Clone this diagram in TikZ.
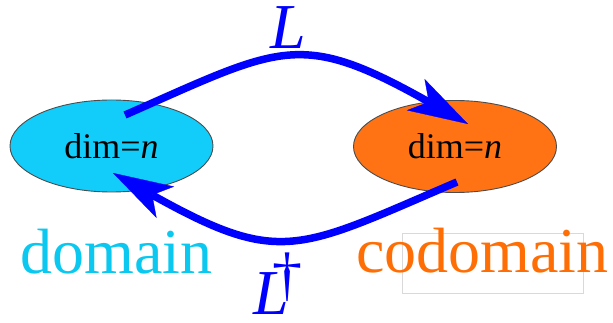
\documentclass[tikz,border=0pt]{standalone}
\usepackage{fontspec}
\setmainfont{Liberation Serif}
\usetikzlibrary{shapes.geometric,arrows.meta}
\definecolor{dcyan}{RGB}{18,205,250}
\definecolor{dorange}{RGB}{255,115,20}
\definecolor{tcyan}{RGB}{10,200,240}
\definecolor{torange}{RGB}{255,110,5}
\definecolor{lblue}{RGB}{0,0,255}
\begin{document}
\begin{tikzpicture}[x=1pt,y=-1pt,
  space/.style={ellipse, draw=black!70, line width=0.9pt, minimum width=203pt, minimum height=92pt, inner sep=0pt, font=\fontsize{36}{36}\selectfont},
  conn/.style={draw=lblue, line width=7.5pt, -{Stealth[length=60pt,width=36pt,inset=15pt,line width=0.3pt]}},
  big/.style={inner sep=0pt, anchor=base, font=\fontsize{64}{64}\selectfont},
  frame/.style={draw=black!15, line width=0.8pt, minimum width=181pt, minimum height=60pt, inner sep=0pt}
]
\useasboundingbox (0,0) rectangle (613,323);
\node[frame] (box) at (492.5,263) {};
\node[space, fill=dcyan] (dom) at (111.5,146) {dim=\textit{n}};
\node[space, fill=dorange] (cod) at (455,146.5) {dim=\textit{n}};
\node[big, text=tcyan] (dl) at (116.5,273) {domain};
\node[big, text=torange] (cl) at (482.5,272) {codomain};
\node[big, text=lblue, font=\fontsize{64}{64}\selectfont\itshape] (L) at (288,49) {L};
\node[inner sep=0pt, anchor=base west, text=lblue, font=\fontsize{64}{64}\selectfont] (Ld) at (253,314) {\itshape L\kern-16pt\raisebox{20pt}{\upshape\fontsize{60}{60}\selectfont †}};
\coordinate (s1) at (125,115);
\coordinate (e1) at (468,124);
\coordinate (s2) at (457,182);
\coordinate (e2) at (113,173);
\draw[conn] (s1) .. controls (282,46) and (299,29) .. (e1);
\draw[conn] (s2) .. controls (298,250) and (281,267) .. (e2);
\end{tikzpicture}
\end{document}
